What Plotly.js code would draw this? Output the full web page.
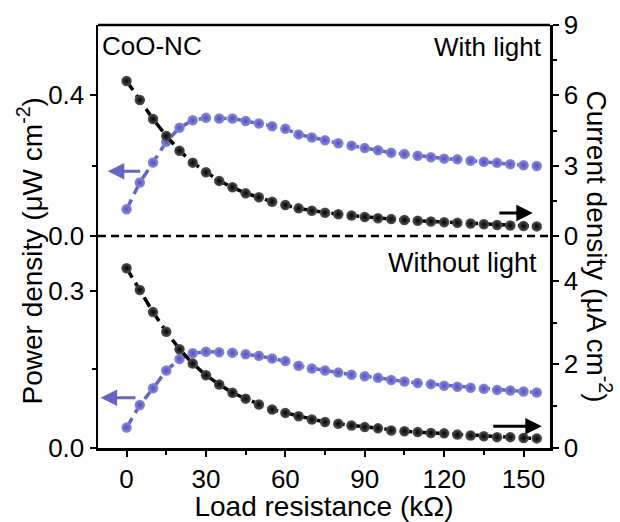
<!DOCTYPE html>
<html>
<head>
<meta charset="utf-8">
<script src="https://cdn.plot.ly/plotly-3.0.1.min.js"></script>
<style>html,body{margin:0;padding:0;background:#fff;}#chart{width:620px;height:522px;}</style>
</head>
<body>
<div id="chart"></div>
<script>
// Load resistance (kΩ)
const resistance = [0,5,10,15,20,25,30,35,40,45,50,55,60,65,70,75,80,85,90,95,100,105,110,115,120,125,130,135,140,145,150,155];
// With light
const powerLight = [0.076,0.152,0.209,0.268,0.308,0.329,0.336,0.334,0.334,0.327,0.320,0.312,0.305,0.289,0.280,0.272,0.264,0.257,0.250,0.244,0.237,0.233,0.228,0.224,0.220,0.218,0.214,0.211,0.208,0.204,0.201,0.199];
const currentLight = [6.61,5.80,4.99,4.27,3.64,3.13,2.72,2.35,2.08,1.82,1.65,1.46,1.32,1.18,1.08,0.99,0.93,0.87,0.81,0.76,0.72,0.68,0.65,0.62,0.59,0.56,0.53,0.50,0.47,0.45,0.43,0.41];
// Without light
const powerDark = [0.039,0.082,0.114,0.148,0.170,0.181,0.184,0.183,0.182,0.179,0.176,0.171,0.166,0.157,0.152,0.148,0.144,0.140,0.137,0.134,0.130,0.127,0.124,0.122,0.119,0.117,0.115,0.113,0.111,0.110,0.108,0.106];
const currentDark = [4.30,3.78,3.25,2.78,2.36,2.02,1.74,1.52,1.32,1.18,1.04,0.92,0.84,0.76,0.68,0.62,0.58,0.54,0.50,0.47,0.42,0.40,0.38,0.36,0.35,0.32,0.30,0.28,0.26,0.26,0.24,0.23];
// Tick labels
const xTicks = [0,30,60,90,120,150];
const xMinor = [15,45,75,105,135];
const powerLightTicks = [0,0.4], powerLightLabels = ['0.0','0.4'];
const currentLightTicks = [0,3,6,9];
const powerDarkTicks = [0,0.3], powerDarkLabels = ['0.0','0.3'];
const currentDarkTicks = [0,2,4];

const FONT = 'Liberation Sans, Arial, sans-serif';
const PURPLE = '#6565c4';
const purpleMarker = {size:10.5, color:'#8a8adf', gradient:{type:'radial', color:'#5252b8'}, line:{width:0}};
const blackMarker = {size:10.5, color:'#555555', gradient:{type:'radial', color:'#000000'}, line:{width:0}};
const dashLine = (c)=>({color:c, width:3.5, dash:'11px,6px'});

const traces = [
  {x:resistance, y:powerLight, xaxis:'x2', yaxis:'y3', mode:'lines+markers', line:dashLine(PURPLE), marker:purpleMarker},
  {x:resistance, y:currentLight, xaxis:'x2', yaxis:'y4', mode:'lines+markers', line:dashLine('#000'), marker:blackMarker},
  {x:resistance, y:powerDark, xaxis:'x', yaxis:'y', mode:'lines+markers', line:dashLine(PURPLE), marker:purpleMarker},
  {x:resistance, y:currentDark, xaxis:'x', yaxis:'y2', mode:'lines+markers', line:dashLine('#000'), marker:blackMarker}
];

const split = 212/423;
const tickCommon = {ticks:'outside', ticklen:6, tickwidth:2, tickcolor:'#000', showline:true, linewidth:2.5, linecolor:'#000',
  showgrid:false, zeroline:false, tickfont:{size:26, color:'#000', family:FONT}};
const minorOf = (vals)=>({tickvals:vals, ticks:'outside', ticklen:4, tickwidth:2, tickcolor:'#000'});

const layout = {
  width:620, height:522,
  margin:{l:98, r:70, t:25, b:74},
  paper_bgcolor:'#fff', plot_bgcolor:'#fff',
  showlegend:false,
  font:{family:FONT, color:'#000'},
  xaxis:Object.assign({}, tickCommon, {domain:[0,1], anchor:'y', range:[-10.8,160], tickmode:'array', tickvals:xTicks,
    minor:minorOf(xMinor),
    title:{text:'Load resistance (kΩ)', font:{size:28, family:FONT, color:'#000'}, standoff:4}}),
  xaxis2:{domain:[0,1], anchor:'y3', matches:'x', showticklabels:false, ticks:'', showline:false, showgrid:false, zeroline:false},
  yaxis:Object.assign({}, tickCommon, {domain:[0,split], anchor:'x', range:[0,0.405], tickmode:'array', tickvals:powerDarkTicks, ticktext:powerDarkLabels, minor:minorOf([0.15])}),
  yaxis2:Object.assign({}, tickCommon, {overlaying:'y', side:'right', anchor:'x', range:[0,5.07], tickmode:'array', tickvals:currentDarkTicks, minor:minorOf([1,3])}),
  yaxis3:Object.assign({}, tickCommon, {domain:[split,1], anchor:'x2', range:[0,0.6001], tickmode:'array', tickvals:powerLightTicks, ticktext:powerLightLabels, minor:minorOf([0.2])}),
  yaxis4:Object.assign({}, tickCommon, {overlaying:'y3', side:'right', anchor:'x2', range:[0,9.001], tickmode:'array', tickvals:currentLightTicks, minor:minorOf([1.5,4.5,7.5])}),
  shapes:[
    {type:'line', xref:'paper', yref:'paper', x0:0, x1:1, y0:1, y1:1, line:{color:'#000', width:2.5}},
    {type:'line', xref:'paper', yref:'paper', x0:0, x1:1, y0:split, y1:split, line:{color:'#000', width:2.5, dash:'8px,5px'}}
  ],
  annotations:[
    {xref:'paper', yref:'paper', x:0.005, y:0.950, xanchor:'left', yanchor:'middle', text:'CoO-NC', showarrow:false, font:{size:26}},
    {xref:'paper', yref:'paper', x:0.987, y:0.948, xanchor:'right', yanchor:'middle', text:'With light', showarrow:false, font:{size:26}},
    {xref:'paper', yref:'paper', x:0.975, y:0.437, xanchor:'right', yanchor:'middle', text:'Without light', showarrow:false, font:{size:27}},
    {xref:'paper', yref:'paper', x:-0.150, y:0.465, xanchor:'center', yanchor:'middle', textangle:-90, text:'Power density (μW cm<sup>-2</sup>)', showarrow:false, font:{size:28}},
    {xref:'paper', yref:'paper', x:1.108, y:0.477, xanchor:'center', yanchor:'middle', textangle:90, text:'Current density (μA cm<sup>-2</sup>)', showarrow:false, font:{size:28}},
    // arrows
    {xref:'x2', yref:'y3', axref:'x2', ayref:'y3', x:-7.1, y:0.184, ax:5.7, ay:0.184, text:'', showarrow:true, arrowhead:2, arrowsize:1.1, arrowwidth:3, arrowcolor:PURPLE},
    {xref:'x2', yref:'y4', axref:'x2', ayref:'y4', x:153.5, y:0.98, ax:140.3, ay:0.98, text:'', showarrow:true, arrowhead:2, arrowsize:1.1, arrowwidth:3, arrowcolor:'#000'},
    {xref:'x', yref:'y', axref:'x', ayref:'y', x:-9.8, y:0.096, ax:3.9, ay:0.096, text:'', showarrow:true, arrowhead:2, arrowsize:1.1, arrowwidth:3, arrowcolor:PURPLE},
    {xref:'x', yref:'y2', axref:'x', ayref:'y2', x:156.9, y:0.52, ax:138, ay:0.52, text:'', showarrow:true, arrowhead:2, arrowsize:1.1, arrowwidth:3, arrowcolor:'#000'}
  ]
};

Plotly.newPlot('chart', traces, layout, {displayModeBar:false, staticPlot:true});
</script>
</body>
</html>
